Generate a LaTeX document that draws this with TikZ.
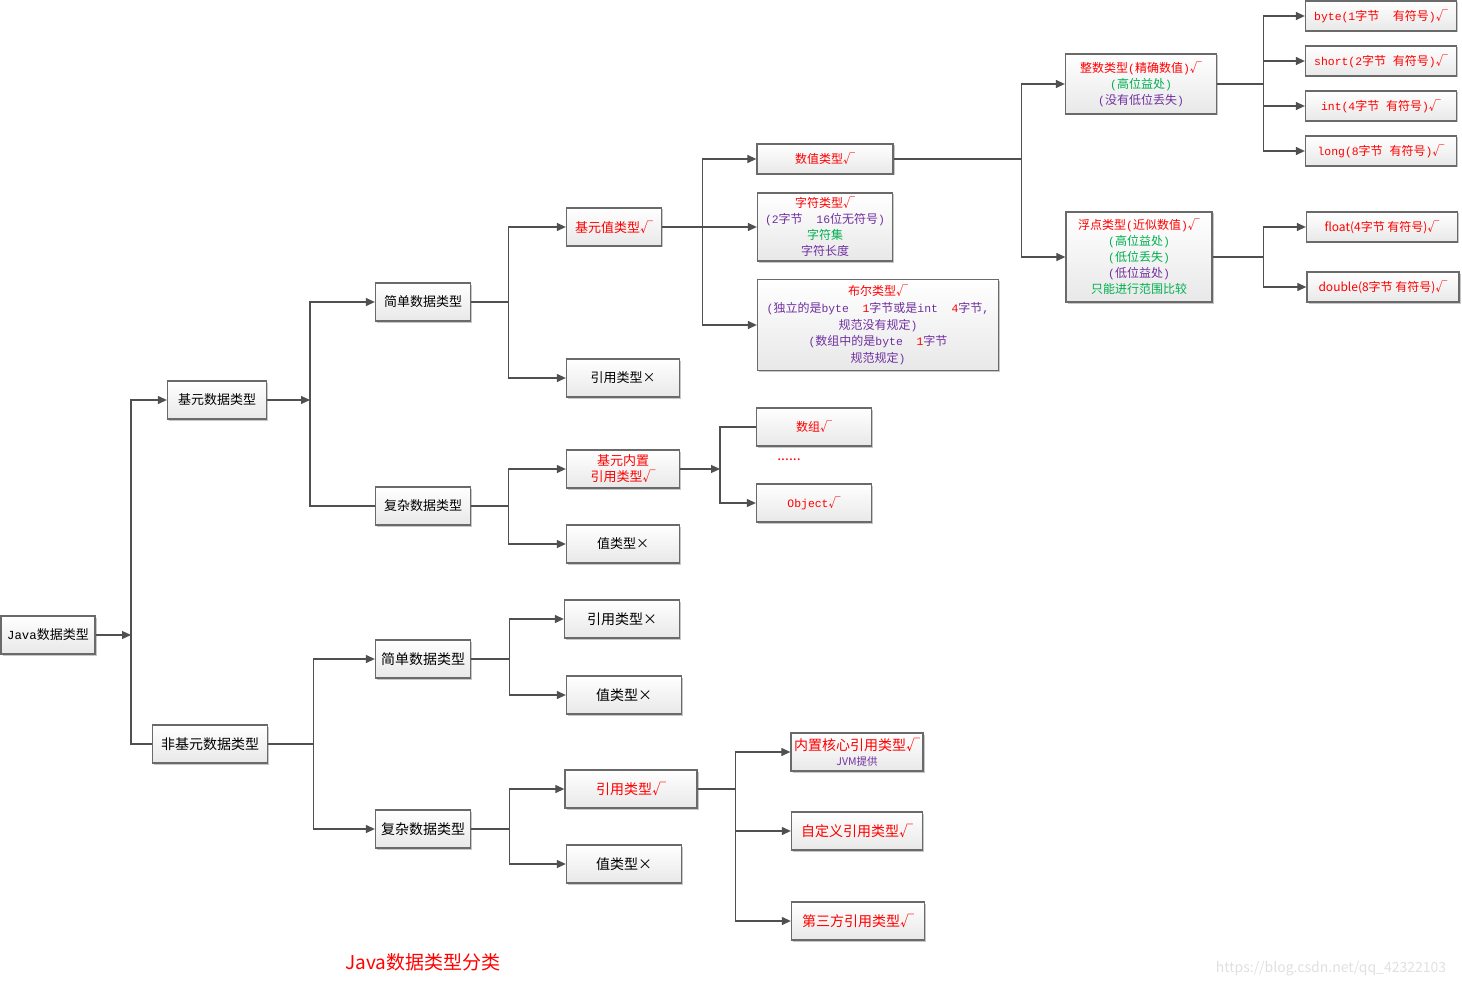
\documentclass[tikz,border=0pt]{standalone}
\usepackage{fontspec}
\setmainfont{Noto Sans CJK SC}
\newfontfamily\latmono{Liberation Mono}[Scale=0.95]
\newcommand{\ml}[1]{{\latmono #1}}
\usetikzlibrary{arrows.meta,shadows}

\definecolor{linegray}{HTML}{505050}
\definecolor{boxedge}{HTML}{6A6A6A}
\definecolor{okred}{HTML}{FF0000}
\definecolor{notegreen}{HTML}{00B050}
\definecolor{notepurple}{HTML}{7030A0}

\tikzset{
  tbox/.style={draw=boxedge, line width=1.3pt, top color=white, bottom color=black!9,
    drop shadow={shadow xshift=1.5pt, shadow yshift=-1.5pt, fill=black!22, opacity=1},
    inner sep=2pt, align=center, minimum height=38pt, font=\fontsize{13}{16}\selectfont},
  smalltext/.style={font=\fontsize{12}{16}\selectfont},
  bigtext/.style={font=\fontsize{14}{17}\selectfont},
  ok/.style={text=okred},
  wire/.style={draw=linegray, line width=1.2pt},
  arr/.style={wire, -{Triangle[length=9pt,width=8pt]}},
}

\begin{document}
\begin{tikzpicture}[x=1pt, y=-1pt]
  \useasboundingbox (0,0) rectangle (1462,987);

  % root
  \node[tbox, minimum width=94pt] (java) at (48,635) {\ml{Java}数据类型};
  \node[tbox, minimum width=99pt] (prim) at (217,400) {基元数据类型};
  \node[tbox, bigtext, minimum width=115pt] (nonprim) at (210,744) {非基元数据类型};

  % primitive branch
  \node[tbox, minimum width=95pt] (psimple) at (423,302) {简单数据类型};
  \node[tbox, minimum width=95pt] (pcomplex) at (423,506) {复杂数据类型};
  \node[tbox, ok, minimum width=95pt] (pvalue) at (614,227) {基元值类型√};
  \node[tbox, minimum width=113pt] (pref) at (623,378) {引用类型×};
  \node[tbox, ok, minimum width=113pt] (pbuiltin) at (623,469) {基元内置\\引用类型√};
  \node[tbox, minimum width=113pt] (pvalx) at (623,544) {值类型×};

  \node[tbox, ok, smalltext, minimum width=136pt, minimum height=30pt] (num) at (825,159) {数值类型√};
  \node[tbox, smalltext, minimum width=135pt, minimum height=68pt] (char) at (825,227)
    {\textcolor{okred}{字符类型√}\\
     \textcolor{notepurple}{\ml{(2}字节\ml{~~16}位无符号\ml{)}}\\
     \textcolor{notegreen}{字符集}\\
     \textcolor{notepurple}{字符长度}};
  \node[tbox, smalltext, minimum width=241pt, minimum height=91pt, font=\fontsize{12}{16.8}\selectfont] (bool) at (878,325)
    {\textcolor{okred}{布尔类型√}\\
     \textcolor{notepurple}{\ml{(}独立的是\ml{byte~~}\textcolor{okred}{\ml{1}}字节或是\ml{int~~}\textcolor{okred}{\ml{4}}字节\ml{,}}\\
     \textcolor{notepurple}{规范没有规定\ml{)}}\\
     \textcolor{notepurple}{\ml{(}数组中的是\ml{byte~~}\textcolor{okred}{\ml{1}}字节}\\
     \textcolor{notepurple}{规范规定\ml{)}}};

  \node[tbox, ok, smalltext, minimum width=115pt] (array) at (814,427) {数组√};
  \node[ok, font=\fontsize{14}{16}\selectfont] (dots) at (789,460) {......};
  \node[tbox, ok, smalltext, minimum width=115pt] (object) at (814,503) {\ml{Object}√};

  % numeric types
  \node[tbox, smalltext, minimum width=151pt, minimum height=60pt] (intg) at (1141,84)
    {\textcolor{okred}{整数类型\ml{(}精确数值\ml{)}√}\\
     \textcolor{notegreen}{\ml{(}高位益处\ml{)}}\\
     \textcolor{notepurple}{\ml{(}没有低位丢失\ml{)}}};
  \node[tbox, smalltext, minimum width=146pt, minimum height=90pt] (flt) at (1139,257)
    {\textcolor{okred}{浮点类型\ml{(}近似数值\ml{)}√}\\
     \textcolor{notegreen}{\ml{(}高位益处\ml{)}}\\
     \textcolor{notegreen}{\ml{(}低位丢失\ml{)}}\\
     \textcolor{notepurple}{\ml{(}低位益处\ml{)}}\\
     \textcolor{notegreen}{只能进行范围比较}};

  \node[tbox, ok, smalltext, minimum width=151pt, minimum height=30pt] (tbyte) at (1381,16) {\ml{byte(1}字节\ml{~~}有符号\ml{)}√};
  \node[tbox, ok, smalltext, minimum width=151pt, minimum height=30pt] (tshort) at (1381,61) {\ml{short(2}字节\ml{~}有符号\ml{)}√};
  \node[tbox, ok, smalltext, minimum width=151pt, minimum height=30pt] (tint) at (1381,106) {\ml{int(4}字节\ml{~}有符号\ml{)}√};
  \node[tbox, ok, smalltext, minimum width=151pt, minimum height=30pt] (tlong) at (1381,151) {\ml{long(8}字节\ml{~}有符号\ml{)}√};
  \node[tbox, ok, smalltext, minimum width=151pt, minimum height=30pt] (tfloat) at (1382,227) {float(4字节 有符号)√};
  \node[tbox, ok, smalltext, minimum width=152pt, minimum height=30pt] (tdouble) at (1383,287) {double(8字节 有符号)√};

  % non-primitive branch
  \node[tbox, bigtext, minimum width=95pt] (nsimple) at (423,659) {简单数据类型};
  \node[tbox, bigtext, minimum width=95pt] (ncomplex) at (423,829) {复杂数据类型};
  \node[tbox, bigtext, minimum width=115pt] (nref) at (622,619) {引用类型×};
  \node[tbox, bigtext, minimum width=115pt] (nval) at (624,695) {值类型×};
  \node[tbox, bigtext, ok, minimum width=132pt] (nrefok) at (631,789) {引用类型√};
  \node[tbox, bigtext, minimum width=115pt] (nvaltwo) at (624,864) {值类型×};

  \node[tbox, minimum width=132pt, align=center] (core) at (857,752)
    {\textcolor{okred}{\fontsize{14}{15}\selectfont 内置核心引用类型√}\\[-1pt]
     \textcolor{notepurple}{\fontsize{10.5}{12}\selectfont JVM提供}};
  \node[tbox, bigtext, ok, minimum width=131pt] (custom) at (857,831) {自定义引用类型√};
  \node[tbox, bigtext, ok, minimum width=133pt] (third) at (858,921) {第三方引用类型√};

  % caption and watermark
  \node[ok, font=\fontsize{19}{21}\selectfont] (title) at (423,962) {Java数据类型分类};
  \node[text=black!12, font=\fontsize{14}{16}\selectfont] (mark) at (1331,969) {https://blog.csdn.net/qq\_42322103};

  % connectors
  \coordinate (jroot) at (131,635);
  \draw[arr] (java.east) -- (jroot);
  \draw[arr] (jroot) |- (prim.west);
  \draw[wire] (jroot) |- (nonprim.west);

  \coordinate (jprim) at (310,400);
  \draw[arr] (prim.east) -- (jprim);
  \draw[arr] (jprim) |- (psimple.west);
  \draw[wire] (jprim) |- (pcomplex.west);

  \draw[arr] (psimple.east) -- ++(37,0) |- (pvalue.west);
  \draw[arr] (psimple.east) -- ++(37,0) |- (pref.west);
  \draw[arr] (pcomplex.east) -- ++(37,0) |- (pbuiltin.west);
  \draw[arr] (pcomplex.east) -- ++(37,0) |- (pvalx.west);

  \draw[arr] (pvalue.east) -- ++(40,0) |- (num.west);
  \draw[arr] (pvalue.east) -- (char.west);
  \draw[arr] (pvalue.east) -- ++(40,0) |- (bool.west);

  \coordinate (jbuilt) at (720,469);
  \draw[arr] (pbuiltin.east) -- (jbuilt);
  \draw[wire] (jbuilt) |- (array.west);
  \draw[arr] (jbuilt) |- (object.west);

  \draw[arr] (num.east) -- ++(128,0) |- (intg.west);
  \draw[arr] (num.east) -- ++(128,0) |- (flt.west);

  \foreach \t in {tbyte, tshort, tint, tlong}
    \draw[arr] (intg.east) -- ++(46,0) |- (\t.west);
  \foreach \t in {tfloat, tdouble}
    \draw[arr] (flt.east) -- ++(51,0) |- (\t.west);

  \draw[arr] (nonprim.east) -- ++(45,0) |- (nsimple.west);
  \draw[arr] (nonprim.east) -- ++(45,0) |- (ncomplex.west);
  \draw[arr] (nsimple.east) -- ++(38,0) |- (nref.west);
  \draw[arr] (nsimple.east) -- ++(38,0) |- (nval.west);
  \draw[arr] (ncomplex.east) -- ++(38,0) |- (nrefok.west);
  \draw[arr] (ncomplex.east) -- ++(38,0) |- (nvaltwo.west);

  \foreach \t in {core, custom, third}
    \draw[arr] (nrefok.east) -- ++(38,0) |- (\t.west);
\end{tikzpicture}
\end{document}
